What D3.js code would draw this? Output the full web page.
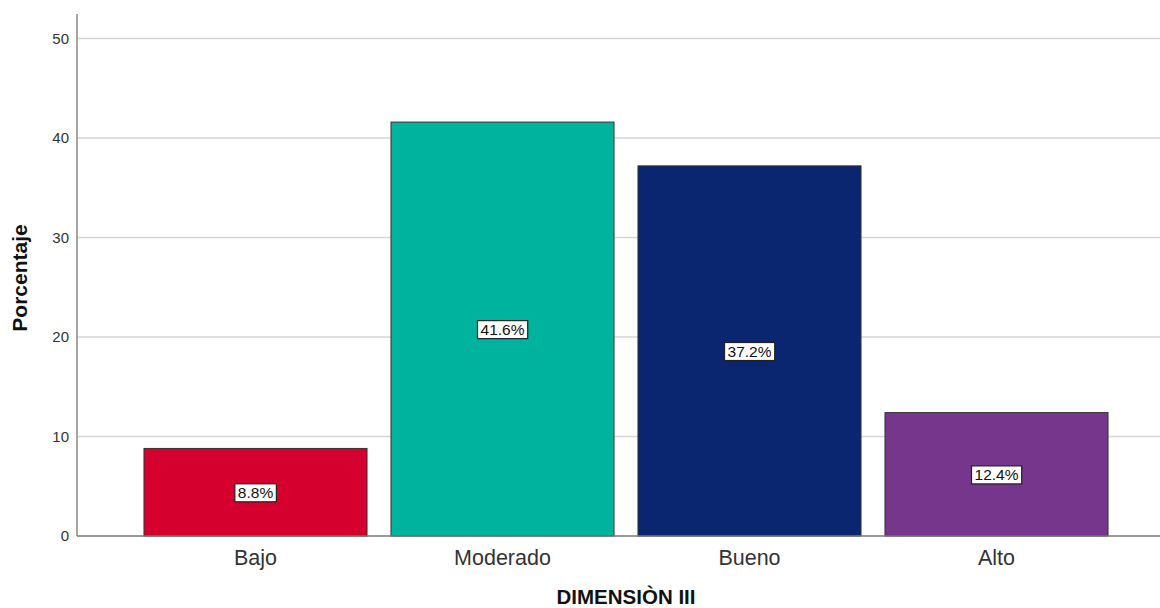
<!DOCTYPE html>
<html>
<head>
<meta charset="utf-8">
<script src="https://cdn.jsdelivr.net/npm/d3@7"></script>
<style>
  body { margin: 0; background: #fff; }
  svg text { font-family: Arial, "Liberation Sans", sans-serif; }
</style>
</head>
<body>
<div id="graph"></div>
<script>
const categories = ['Bajo', 'Moderado', 'Bueno', 'Alto']
const percentages = [8.8, 41.6, 37.2, 12.4]
const barColors = ['#d5002e', '#00b39f', '#0b2670', '#76368c']
const yTicks = [0, 10, 20, 30, 40, 50]

const width = 1160
const height = 608
const axisX = 77
const baseY = 536

const svg = d3
  .select('#graph')
  .append('svg')
  .attr('width', width)
  .attr('height', height)

const x = d3
  .scaleBand()
  .domain(categories)
  .range([132, 1120])
  .paddingInner(0.097)
  .paddingOuter(0.0485)

// 50 sits at y≈38.5, axis extends a bit higher
const y = d3.scaleLinear().domain([0, 50]).range([baseY, 38.5])

// gridlines
svg
  .append('g')
  .selectAll('line')
  .data(yTicks.filter((d) => d > 0))
  .enter()
  .append('line')
  .attr('x1', axisX)
  .attr('x2', width)
  .attr('y1', (d) => y(d))
  .attr('y2', (d) => y(d))
  .attr('stroke', '#d6d6d6')
  .attr('stroke-width', 1.5)

// y axis
const yAxis = svg
  .append('g')
  .attr('transform', `translate(${axisX},0)`)
  .call(d3.axisLeft(y).tickValues(yTicks).tickSize(0).tickPadding(8))
yAxis.select('.domain').remove()
yAxis
  .selectAll('text')
  .attr('font-size', 15)
  .attr('fill', '#333')
  .style('font-family', 'Arial, "Liberation Sans", sans-serif')

svg
  .append('line')
  .attr('x1', axisX)
  .attr('x2', axisX)
  .attr('y1', 14)
  .attr('y2', baseY)
  .attr('stroke', '#888')
  .attr('stroke-width', 1.5)

// bars
svg
  .append('g')
  .selectAll('rect')
  .data(categories)
  .enter()
  .append('rect')
  .attr('x', (d) => x(d))
  .attr('y', (d, i) => y(percentages[i]))
  .attr('width', x.bandwidth())
  .attr('height', (d, i) => baseY - y(percentages[i]))
  .attr('fill', (d, i) => barColors[i])
  .attr('stroke', '#333')
  .attr('stroke-width', 1)

// x baseline
svg
  .append('line')
  .attr('x1', axisX)
  .attr('x2', width)
  .attr('y1', baseY)
  .attr('y2', baseY)
  .attr('stroke', '#777')
  .attr('stroke-width', 1.5)

// value labels in white boxes, centred in each bar
const labels = svg
  .append('g')
  .selectAll('g')
  .data(categories)
  .enter()
  .append('g')
  .attr('transform', (d, i) => {
    const cx = x(d) + x.bandwidth() / 2
    const cy = (y(percentages[i]) + baseY) / 2
    return `translate(${cx},${cy})`
  })

labels
  .append('text')
  .attr('text-anchor', 'middle')
  .attr('dy', '0.36em')
  .attr('font-size', 15.5)
  .attr('fill', '#111')
  .text((d, i) => `${percentages[i].toFixed(1)}%`)

labels.each(function () {
  const g = d3.select(this)
  const bb = g.select('text').node().getBBox()
  g.insert('rect', 'text')
    .attr('x', bb.x - 3)
    .attr('y', bb.y)
    .attr('width', bb.width + 6)
    .attr('height', bb.height + 1)
    .attr('fill', '#fff')
    .attr('stroke', '#222')
    .attr('stroke-width', 1.2)
})

// category labels
svg
  .append('g')
  .selectAll('text')
  .data(categories)
  .enter()
  .append('text')
  .attr('x', (d) => x(d) + x.bandwidth() / 2)
  .attr('y', 565)
  .attr('text-anchor', 'middle')
  .attr('font-size', 21.5)
  .attr('fill', '#333')
  .text((d) => d)

// axis titles
svg
  .append('text')
  .attr('x', 626)
  .attr('y', 604)
  .attr('text-anchor', 'middle')
  .attr('font-size', 20.5)
  .attr('font-weight', 'bold')
  .attr('fill', '#111')
  .text('DIMENSIÒN III')

svg
  .append('text')
  .attr('transform', 'translate(27,278) rotate(-90)')
  .attr('text-anchor', 'middle')
  .attr('font-size', 21)
  .attr('font-weight', 'bold')
  .attr('fill', '#111')
  .text('Porcentaje')
</script>
</body>
</html>
